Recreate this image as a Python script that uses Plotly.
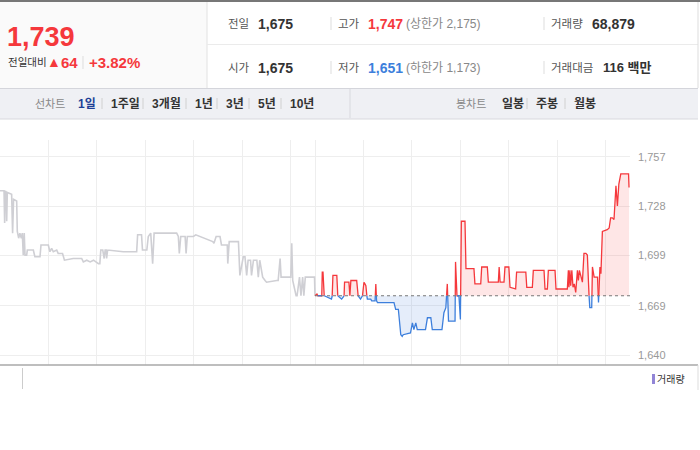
import plotly.graph_objects as go

# ---------------- data ----------------
BASE = 1675            # previous close
SESSION = 6.5          # hours per session (09:00-15:30)

# previous day (hours since 09:00, price)
prev_t = [0.00, 0.083, 0.096, 0.11, 0.13, 0.138, 0.151, 0.24, 0.26, 0.28, 0.344, 0.357, 0.385, 0.41, 0.44,
          0.46, 0.48, 0.50, 0.516, 0.55, 0.564, 0.688, 0.72, 0.825, 0.846, 0.997, 1.03, 1.066, 1.10, 1.17,
          1.20, 1.29, 1.33, 1.51, 1.685, 1.72, 1.79, 1.86, 1.93, 2.03, 2.06, 2.08, 2.12, 2.15, 2.17, 2.19,
          2.20, 2.22, 2.545, 2.82, 2.84, 2.92, 2.94, 3.03, 3.06, 3.11, 3.15, 3.18, 3.645, 3.68, 3.70, 3.73,
          3.82, 3.84, 3.865, 3.99, 4.04, 4.13, 4.30, 4.39, 4.415, 4.46, 4.54, 4.57, 4.69, 4.70, 4.73, 4.92,
          4.95, 5.02, 5.055, 5.09, 5.12, 5.17, 5.19, 5.23, 5.30, 5.33, 5.36, 5.42, 5.47, 5.50, 5.71, 5.74,
          5.78, 5.80, 6.00, 6.02, 6.04, 6.11, 6.13, 6.18, 6.21, 6.245, 6.27, 6.30, 6.49, 6.50]
prev_v = [1737, 1737, 1718, 1737, 1736, 1719, 1736, 1735, 1712, 1732, 1731, 1713, 1709, 1712, 1709,
          1712, 1699, 1712, 1699, 1699, 1702, 1702, 1698, 1698, 1705, 1705, 1701, 1703, 1701, 1702,
          1700, 1700, 1696, 1697, 1697, 1695, 1696, 1695, 1696, 1694, 1694, 1702, 1702, 1697, 1702, 1702,
          1697, 1702, 1701, 1701, 1711, 1711, 1702, 1702, 1710, 1712, 1694, 1712, 1712, 1710, 1700, 1710,
          1710, 1700, 1710, 1710, 1711, 1710, 1708, 1707, 1706, 1710, 1710, 1705, 1705, 1694, 1707, 1707,
          1687, 1698, 1698, 1687, 1696, 1696, 1687, 1696, 1696, 1686, 1696, 1686, 1684, 1683, 1684, 1684,
          1697, 1686, 1686, 1706, 1684, 1675, 1675, 1686, 1675, 1686, 1675, 1686, 1686, 1675]

# today (hours since 09:00, price)
today_t = [0.00, 0.04, 0.06, 0.14, 0.15, 0.165, 0.19, 0.34, 0.355, 0.37, 0.45, 0.47, 0.55, 0.60, 0.61,
           0.70, 0.72, 0.74, 0.86, 0.89, 0.94, 0.98, 1.01, 1.03, 1.05, 1.07, 1.08, 1.15, 1.17, 1.24,
           1.255, 1.27, 1.29, 1.63, 1.665, 1.72, 1.77, 1.80, 1.82, 1.97, 2.01, 2.04, 2.08, 2.11, 2.28,
           2.32, 2.39, 2.42, 2.62, 2.64, 2.66, 2.70, 2.73, 2.755, 2.89, 2.90, 2.93, 2.97, 3.00, 3.02,
           3.095, 3.115, 3.28, 3.30, 3.42, 3.44, 3.556, 3.577, 3.783, 3.80, 3.82, 3.90, 3.92, 4.00, 4.024,
           4.14, 4.16, 4.35, 4.37, 4.485, 4.505, 4.726, 4.746, 4.795, 4.815, 4.953, 4.973, 5.207, 5.228,
           5.24, 5.26, 5.276, 5.30, 5.324, 5.35, 5.38, 5.415, 5.435, 5.456, 5.485, 5.518, 5.55, 5.59,
           5.62, 5.655, 5.67, 5.71, 5.725, 5.76, 5.83, 5.85, 5.88, 5.90, 5.93, 6.03, 6.07, 6.10, 6.135,
           6.17, 6.21, 6.24, 6.27, 6.31, 6.47, 6.48]
today_v = [1675, 1676, 1675, 1675, 1689, 1689, 1675, 1673, 1675, 1687, 1687, 1675, 1673, 1675, 1683,
           1683, 1675, 1684, 1684, 1675, 1673, 1675, 1683, 1682, 1681, 1675, 1673, 1673, 1672, 1672,
           1682, 1672, 1671, 1671, 1667, 1667, 1652, 1651, 1652, 1653, 1659, 1655, 1659, 1655, 1655,
           1662, 1662, 1655, 1655, 1663, 1665, 1668, 1682, 1660, 1660, 1695, 1675, 1675, 1661, 1719,
           1719, 1691, 1691, 1682, 1682, 1692, 1692, 1683, 1683, 1692, 1683, 1683, 1692, 1692, 1680,
           1679, 1689, 1689, 1680, 1680, 1690, 1690, 1679, 1679, 1690, 1690, 1679, 1679, 1690,
           1680, 1690, 1681, 1690, 1680, 1682, 1677, 1690, 1684, 1690, 1686, 1683, 1700, 1700,
           1699, 1675, 1668, 1668, 1692, 1686, 1686, 1671, 1692, 1688, 1713, 1714, 1715, 1721, 1721,
           1720, 1740, 1728, 1741, 1747, 1747, 1739]

y_ticks = [1640, 1669, 1699, 1728, 1757]
y_tick_labels = ["1,640", "1,669", "1,699", "1,728", "1,757"]
x_grid_hours = [1, 2, 3, 4, 5, 6, 6.5, 7.5, 8.5, 9.5, 10.5, 11.5, 12.5]

price_now = "1,739"
change_abs = "64"
change_pct = "+3.82%"
row1 = [("전일", "1,675"), ("고가", "1,747"), ("거래량", "68,879")]
row2 = [("시가", "1,675"), ("저가", "1,651"), ("거래대금", "116 백만")]
limit_up = "(상한가 2,175)"
limit_down = "(하한가 1,173)"
line_periods = ["1일", "1주일", "3개월", "1년", "3년", "5년", "10년"]
candle_periods = ["일봉", "주봉", "월봉"]

# ---------------- styles ----------------
RED = "#f5383c"
BLUE = "#3d7fdc"
GRAY_LINE = "#cfcfd4"
FONT = "Liberation Sans, Noto Sans CJK KR, sans-serif"

# ---------------- helpers ----------------
PL_L, PL_R, PL_T, PL_B = 0, 630, 140, 365


def X(px):
    return (px - PL_L) / (PL_R - PL_L)


def Y(py):
    return (PL_B - py) / (PL_B - PL_T)


def split_at_base(ts, vs, base):
    xs, ys = [ts[0]], [vs[0]]
    for i in range(1, len(ts)):
        t0, v0, t1, v1 = ts[i - 1], vs[i - 1], ts[i], vs[i]
        if (v0 - base) * (v1 - base) < 0:
            tc = t0 + (base - v0) * (t1 - t0) / (v1 - v0)
            xs.append(tc)
            ys.append(base)
        xs.append(t1)
        ys.append(v1)
    return xs, ys


# ---------------- figure ----------------
fig = go.Figure()

# previous day gray line
fig.add_trace(go.Scatter(x=prev_t, y=prev_v, mode="lines",
                         line=dict(color=GRAY_LINE, width=1.6), hoverinfo="skip"))

tx = [SESSION + t for t in today_t]
sx, sy = split_at_base(tx, today_v, BASE)
base_y = [BASE] * len(sx)
up_fill = [max(v, BASE) for v in sy]
dn_fill = [min(v, BASE) for v in sy]
up_line = [v if v >= BASE else None for v in sy]
dn_line = [v if v <= BASE else None for v in sy]

fig.add_trace(go.Scatter(x=sx, y=base_y, mode="lines", line=dict(width=0), hoverinfo="skip"))
fig.add_trace(go.Scatter(x=sx, y=up_fill, mode="lines", line=dict(width=0), fill="tonexty",
                         fillcolor="rgba(250,80,80,0.14)", hoverinfo="skip"))
fig.add_trace(go.Scatter(x=sx, y=base_y, mode="lines", line=dict(width=0), hoverinfo="skip"))
fig.add_trace(go.Scatter(x=sx, y=dn_fill, mode="lines", line=dict(width=0), fill="tonexty",
                         fillcolor="rgba(70,130,220,0.14)", hoverinfo="skip"))
fig.add_trace(go.Scatter(x=sx, y=up_line, mode="lines", connectgaps=False,
                         line=dict(color=RED, width=1.3), hoverinfo="skip"))
fig.add_trace(go.Scatter(x=sx, y=dn_line, mode="lines", connectgaps=False,
                         line=dict(color=BLUE, width=1.3), hoverinfo="skip"))
# previous close dotted reference
fig.add_trace(go.Scatter(x=[SESSION, 2 * SESSION], y=[BASE, BASE], mode="lines",
                         line=dict(color="#777777", width=1, dash="dot"), hoverinfo="skip"))

shapes = []
ann = []


def rect(x0, y0, x1, y1, fill, line=None):
    shapes.append(dict(type="rect", xref="paper", yref="paper", x0=X(x0), x1=X(x1), y0=Y(y0), y1=Y(y1),
                       fillcolor=fill, line=dict(width=0) if line is None else line, layer="below"))


def hline(x0, x1, y, color, w=1):
    shapes.append(dict(type="line", xref="paper", yref="paper", x0=X(x0), x1=X(x1), y0=Y(y), y1=Y(y),
                       line=dict(color=color, width=w)))


def vline(x, y0, y1, color, w=1):
    shapes.append(dict(type="line", xref="paper", yref="paper", x0=X(x), x1=X(x), y0=Y(y0), y1=Y(y1),
                       line=dict(color=color, width=w)))


def text(x, y, s, size, color, anchor="left"):
    ann.append(dict(xref="paper", yref="paper", x=X(x), y=Y(y), text=s, showarrow=False,
                    xanchor=anchor, yanchor="middle", font=dict(family=FONT, size=size, color=color)))


# header panels
rect(0, 2, 207, 88, "#fafafa")
hline(0, 700, 1, "#777777", 2)
vline(207, 2, 88, "#e2e2e2")
hline(207, 698, 44.5, "#ebebeb")
vline(698, 2, 88, "#dddddd")
# toolbar
rect(0, 88, 698, 119, "#eff0f4")
hline(0, 698, 88.5, "#d4d5db")
hline(0, 698, 119, "#d8d9de")
vline(350, 89, 118, "#d8d9de")
# bottom
hline(0, 698, 365, "#a8a8a8", 1.5)
vline(22.5, 368, 389, "#cccccc")
vline(698, 365, 390, "#dddddd")
rect(652, 374, 655, 384, "#9285d6")
text(655, 379, "거래량", 10, "#333333")

# price block
text(5, 37, "<b>" + price_now + "</b>", 27, RED)
text(6, 62.5, "전일대비", 10.5, "#333333")
text(44.5, 62, "▲", 14, RED)
text(59, 62.5, "<b>" + change_abs + "</b>", 15, RED)
vline(83, 56, 69, "#dddddd")
text(87, 62.5, "<b>" + change_pct + "</b>", 15, RED)

# summary rows
cols_x = [(226, 256), (336, 366), (549, 590)]
for (lab, val), (lx, vx), sep in zip(row1, cols_x, [None, 331, 544]):
    text(lx, 23.5, lab, 11.5, "#555555")
    col = RED if lab == "고가" else "#333333"
    text(vx, 23.5, "<b>" + val + "</b>", 14, col)
    if sep:
        vline(sep, 17, 30, "#dddddd")
cols_x2 = [(226, 256), (336, 366), (549, 601)]
for (lab, val), (lx, vx), sep in zip(row2, cols_x2, [None, 331, 544]):
    text(lx, 67.5, lab, 11.5, "#555555")
    col = BLUE if lab == "저가" else "#333333"
    text(vx, 67.5, "<b>" + val + "</b>", 13 if lab == "거래대금" else 14, col)
    if sep:
        vline(sep, 61, 74, "#dddddd")
text(404, 23.5, limit_up, 12, "#888888")
text(404, 67.5, limit_down, 12, "#888888")

# toolbar text
text(33, 103.5, "선차트", 11, "#888888")
lp_x = [76, 109, 150, 193, 224, 256, 288]
for i, (lab, x) in enumerate(zip(line_periods, lp_x)):
    text(x, 103.5, "<b>" + lab + "</b>", 12, "#1d3f96" if i == 0 else "#333333")
    if i > 0:
        vline(x - 7, 98, 109, "#d0d0d0")
text(454, 103.5, "봉차트", 11, "#888888")
cp_x = [500, 534, 572]
for i, (lab, x) in enumerate(zip(candle_periods, cp_x)):
    text(x, 103.5, "<b>" + lab + "</b>", 12, "#333333")
    if i > 0:
        vline(x - 7, 98, 109, "#d0d0d0")

fig.update_layout(
    width=700, height=450,
    margin=dict(l=PL_L, r=700 - PL_R, t=PL_T, b=450 - PL_B),
    paper_bgcolor="white", plot_bgcolor="white",
    showlegend=False,
    shapes=shapes, annotations=ann,
    xaxis=dict(range=[0, 2 * SESSION], tickvals=x_grid_hours, showticklabels=False, ticks="",
               showgrid=True, gridcolor="#eeeeee", gridwidth=1, zeroline=False, showline=False,
               fixedrange=True),
    yaxis=dict(range=[1634.1, 1767], side="right", tickvals=y_ticks, ticktext=y_tick_labels,
               showgrid=True, gridcolor="#eeeeee", gridwidth=1, zeroline=False, showline=False,
               ticks="", ticklabelstandoff=7,
               tickfont=dict(family="Liberation Sans, sans-serif", size=11, color="#999999"),
               fixedrange=True),
)

fig.write_html("out.html", config={"displayModeBar": False},
               post_script="document.body.style.margin='0px';")
